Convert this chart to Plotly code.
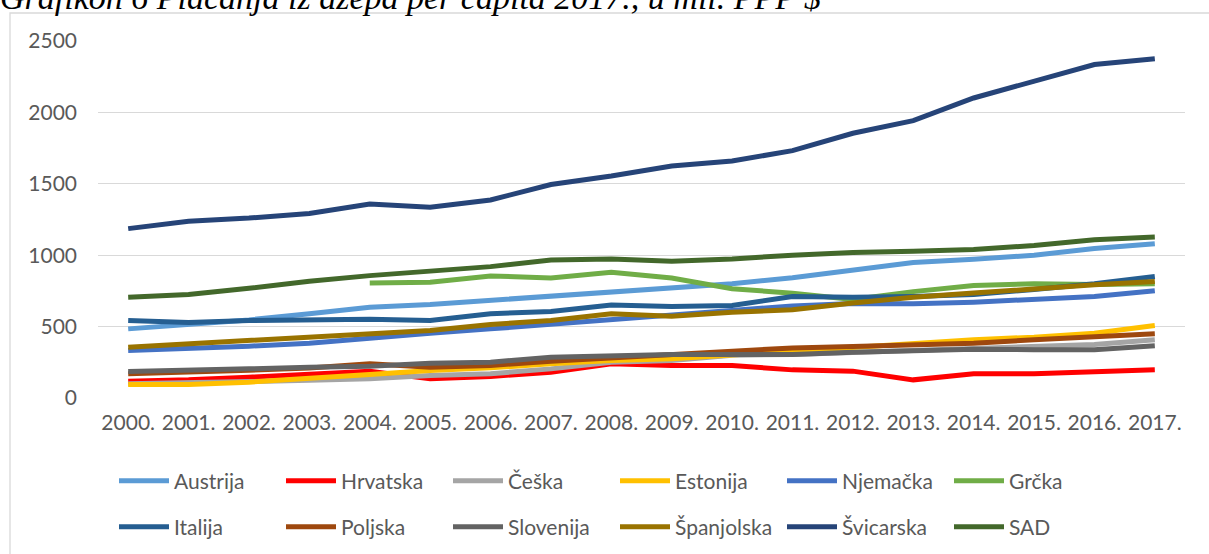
import plotly.graph_objects as go

years = ["2000.", "2001.", "2002.", "2003.", "2004.", "2005.", "2006.", "2007.", "2008.",
         "2009.", "2010.", "2011.", "2012.", "2013.", "2014.", "2015.", "2016.", "2017."]

austrija = [484, 515, 547, 590, 636, 655, 683, 711, 739, 765, 800, 842, 893, 949, 972, 1000, 1047, 1080]
hrvatska = [118, 127, 146, 165, 188, 134, 151, 181, 239, 228, 228, 197, 188, 127, 169, 169, 181, 197]
ceska = [100, 105, 115, 125, 134, 158, 170, 204, 251, 262, 300, 305, 320, 335, 351, 361, 375, 408]
estonija = [95, 95, 111, 134, 165, 193, 211, 239, 262, 274, 300, 330, 355, 385, 408, 426, 454, 508]
njemacka = [333, 345, 363, 384, 422, 454, 484, 515, 550, 575, 610, 645, 662, 660, 671, 690, 711, 751]
grcka = [None, None, None, None, 806, 811, 855, 841, 881, 840, 765, 734, 690, 745, 788, 800, 795, 800]
italija = [543, 529, 543, 547, 552, 543, 590, 606, 652, 641, 648, 711, 706, 711, 725, 760, 800, 851]
poljska = [170, 180, 195, 210, 240, 216, 228, 258, 281, 310, 328, 351, 361, 373, 384, 408, 426, 450]
slovenija = [186, 193, 204, 216, 222, 244, 251, 286, 296, 305, 305, 305, 321, 333, 342, 338, 338, 366]
spanjolska = [356, 379, 403, 422, 450, 473, 515, 543, 590, 573, 600, 618, 666, 705, 735, 765, 793, 816]
svicarska = [1186, 1238, 1260, 1292, 1359, 1336, 1387, 1495, 1555, 1625, 1660, 1732, 1854, 1942, 2101, 2222, 2335, 2376]
sad = [706, 725, 768, 818, 857, 892, 920, 967, 974, 958, 974, 1000, 1019, 1028, 1040, 1068, 1108, 1127]

series = [
    ("Austrija", austrija, "#5B9BD5", "legend"),
    ("Hrvatska", hrvatska, "#FF0000", "legend"),
    ("Češka", ceska, "#A5A5A5", "legend"),
    ("Estonija", estonija, "#FFC000", "legend"),
    ("Njemačka", njemacka, "#4472C4", "legend"),
    ("Grčka", grcka, "#70AD47", "legend"),
    ("Italija", italija, "#255E91", "legend2"),
    ("Poljska", poljska, "#9E480E", "legend2"),
    ("Slovenija", slovenija, "#636363", "legend2"),
    ("Španjolska", spanjolska, "#997300", "legend2"),
    ("Švicarska", svicarska, "#264478", "legend2"),
    ("SAD", sad, "#43682B", "legend2"),
]

W, H = 1209, 554
L, R, T, B = 98, 24, 41, 156
pw, ph = W - L - R, H - T - B

def px2x(px):
    return (px - L) / pw

def py2y(py):
    return (H - B - py) / ph

fig = go.Figure()
xs = list(range(len(years)))
for name, vals, color, leg in series:
    fig.add_trace(go.Scatter(
        x=xs, y=vals, name=name, mode="lines",
        line=dict(color=color, width=5),
        legend=leg, connectgaps=False,
    ))

font_main = "Lato, 'Open Sans', sans-serif"
legend_common = dict(
    orientation="h", xanchor="left", yanchor="middle",
    xref="container", yref="container",
    entrywidth=102, entrywidthmode="pixels", itemwidth=50,
    font=dict(family=font_main, size=21, color="#595959"),
    bgcolor="rgba(0,0,0,0)", traceorder="normal",
)

fig.update_layout(
    width=W, height=H, autosize=False,
    margin=dict(l=L, r=R, t=T, b=B, pad=0, autoexpand=False),
    paper_bgcolor="white", plot_bgcolor="white",
    showlegend=True,
    legend=dict(x=114 / W, y=1 - 481 / H, **legend_common),
    legend2=dict(x=114 / W, y=1 - 527 / H, **legend_common),
    xaxis=dict(
        range=[-0.5, len(years) - 0.5], tickmode="array", tickvals=xs, ticktext=years,
        showgrid=False, zeroline=False, showline=False, ticks="",
        tickfont=dict(family=font_main, size=21, color="#595959"),
        ticklabelstandoff=10, fixedrange=True, automargin=False,
    ),
    yaxis=dict(
        range=[0, 2500], tickmode="array", tickvals=[0, 500, 1000, 1500, 2000, 2500],
        showgrid=True, gridcolor="#D9D9D9", gridwidth=1.3, zeroline=False, showline=False,
        ticks="", tickfont=dict(family=font_main, size=21, color="#595959"),
        ticklabelstandoff=20, fixedrange=True, automargin=False,
    ),
    shapes=[dict(
        type="rect", xref="paper", yref="paper",
        x0=px2x(10), x1=px2x(1230), y0=py2y(580), y1=py2y(13),
        line=dict(color="#D9D9D9", width=1.3), fillcolor="rgba(0,0,0,0)", layer="below",
    )],
    annotations=[dict(
        text="Grafikon 6 Plaćanja iz džepa per capita 2017., u mil. PPP $",
        xref="paper", yref="paper", x=px2x(-2), y=py2y(18), xanchor="left", yanchor="bottom",
        showarrow=False,
        font=dict(family="'Liberation Serif', 'Times New Roman', serif", size=34, color="black", style="italic"),
    )],
)

fig.write_html("out.html", config={"displayModeBar": False},
               post_script="document.body.style.margin='0';")
